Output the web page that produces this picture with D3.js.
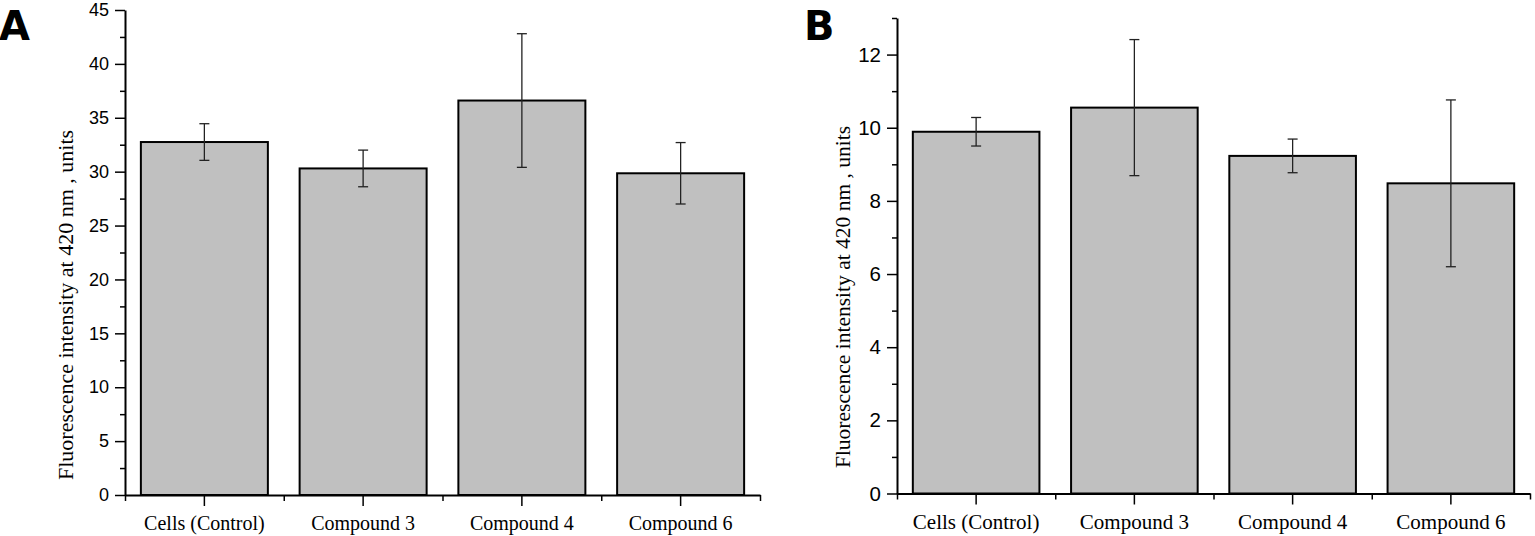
<!DOCTYPE html>
<html>
<head>
<meta charset="utf-8">
<script src="https://cdn.jsdelivr.net/npm/d3@7"></script>
<style>
  body { margin: 0; background: #fff; }
  .tick-label { font-family: "Liberation Sans", Arial, sans-serif; }
  .cat-label { font-family: "Liberation Serif", "Times New Roman", serif; }
  .axis path, .axis line { stroke: #000; }
</style>
</head>
<body>
<svg id="chart" width="1535" height="536"></svg>
<script>
const categories = ['Cells (Control)', 'Compound 3', 'Compound 4', 'Compound 6'];

const meansA = [32.75, 30.3, 36.6, 29.85];
const errorsA = [1.7, 1.7, 6.2, 2.85];
const yTicksA = [0, 5, 10, 15, 20, 25, 30, 35, 40, 45];
const yMinorA = [2.5, 7.5, 12.5, 17.5, 22.5, 27.5, 32.5, 37.5, 42.5];

const meansB = [9.89, 10.55, 9.23, 8.48];
const errorsB = [0.39, 1.86, 0.46, 2.28];
const yTicksB = [0, 2, 4, 6, 8, 10, 12];
const yMinorB = [1, 3, 5, 7, 9, 11, 13];

const yTitle = 'Fluorescence intensity at 420 nm , units';

const svg = d3.select('#chart');

const drawPanel = p => {
  const xScale = d3.scaleBand()
    .domain(categories)
    .range([p.left, p.right])
    .paddingInner(0.2)
    .paddingOuter(0.1);

  const yScale = d3.scaleLinear()
    .domain([0, p.yMax])
    .range([p.bottom, p.top]);

  const rows = categories.map((c, i) => ({ key: c, mean: p.means[i], err: p.errors[i] }));

  const g = svg.append('g');

  // bars
  g.selectAll('rect.bar')
    .data(rows)
    .enter()
    .append('rect')
    .attr('class', 'bar')
    .attr('x', d => xScale(d.key))
    .attr('y', d => yScale(d.mean))
    .attr('width', xScale.bandwidth())
    .attr('height', d => yScale(0) - yScale(d.mean))
    .attr('fill', '#c0c0c0')
    .attr('stroke', '#000')
    .attr('stroke-width', 2);

  // error bars
  const cx = d => xScale(d.key) + xScale.bandwidth() / 2;
  const errs = g.selectAll('g.err')
    .data(rows)
    .enter()
    .append('g')
    .attr('class', 'err')
    .attr('stroke', '#222')
    .attr('stroke-width', 1.3);

  errs.append('line')
    .attr('x1', cx).attr('x2', cx)
    .attr('y1', d => yScale(d.mean + d.err))
    .attr('y2', d => yScale(d.mean - d.err));
  errs.append('line')
    .attr('x1', d => cx(d) - 5).attr('x2', d => cx(d) + 5)
    .attr('y1', d => yScale(d.mean + d.err))
    .attr('y2', d => yScale(d.mean + d.err));
  errs.append('line')
    .attr('x1', d => cx(d) - 5).attr('x2', d => cx(d) + 5)
    .attr('y1', d => yScale(d.mean - d.err))
    .attr('y2', d => yScale(d.mean - d.err));

  // y axis: minor then major
  g.append('g')
    .attr('class', 'axis')
    .attr('transform', `translate(${p.left},0)`)
    .call(d3.axisLeft(yScale).tickValues(p.yMinor).tickSize(5).tickFormat(''))
    .call(a => a.select('.domain').remove())
    .selectAll('line').attr('stroke-width', 1.5);

  const yAxis = g.append('g')
    .attr('class', 'axis')
    .attr('transform', `translate(${p.left},0)`)
    .call(d3.axisLeft(yScale).tickValues(p.yTicks).tickSize(10).tickSizeOuter(0).tickPadding(6));
  yAxis.select('.domain').attr('stroke-width', 2);
  yAxis.selectAll('line').attr('stroke-width', 1.5);
  yAxis.selectAll('text')
    .attr('class', 'tick-label')
    .attr('font-size', p.tickFont)
    .attr('fill', '#000');

  // x axis: boundary ticks then category ticks
  const xEdges = d3.scaleLinear().domain([0, categories.length]).range([p.left, p.right]);
  g.append('g')
    .attr('class', 'axis')
    .attr('transform', `translate(0,${p.bottom})`)
    .call(d3.axisBottom(xEdges).tickValues(d3.range(categories.length + 1)).tickSize(6).tickFormat(''))
    .call(a => a.select('.domain').remove())
    .selectAll('line').attr('stroke-width', 1.5);

  const xAxis = g.append('g')
    .attr('class', 'axis')
    .attr('transform', `translate(0,${p.bottom})`)
    .call(d3.axisBottom(xScale).tickSize(11).tickSizeOuter(0).tickPadding(10));
  xAxis.select('.domain').attr('stroke-width', 2);
  xAxis.selectAll('line').attr('stroke-width', 1.5);
  xAxis.selectAll('text')
    .attr('class', 'cat-label')
    .attr('font-size', p.catFont)
    .attr('fill', '#000');

  // y title
  g.append('text')
    .attr('class', 'cat-label')
    .attr('transform', `translate(${p.titleX},${p.titleY}) rotate(-90)`)
    .attr('text-anchor', 'middle')
    .attr('font-size', p.titleFont)
    .text(yTitle);

  // panel letter
  g.append('text')
    .attr('x', p.letterX)
    .attr('y', 40)
    .attr('font-family', '"DejaVu Sans", sans-serif')
    .attr('font-weight', 900)
    .attr('font-size', 40)
    .text(p.letter);
};

drawPanel({
  letter: 'A', letterX: -1,
  means: meansA, errors: errorsA, yTicks: yTicksA, yMinor: yMinorA, yMax: 45,
  left: 125, right: 760, top: 10, bottom: 495,
  tickFont: 18, catFont: 20, titleFont: 22, titleX: 73, titleY: 305
});

drawPanel({
  letter: 'B', letterX: 804,
  means: meansB, errors: errorsB, yTicks: yTicksB, yMinor: yMinorB, yMax: 13,
  left: 897, right: 1530, top: 18, bottom: 493.5,
  tickFont: 20.5, catFont: 21, titleFont: 21.5, titleX: 850, titleY: 297
});
</script>
</body>
</html>
